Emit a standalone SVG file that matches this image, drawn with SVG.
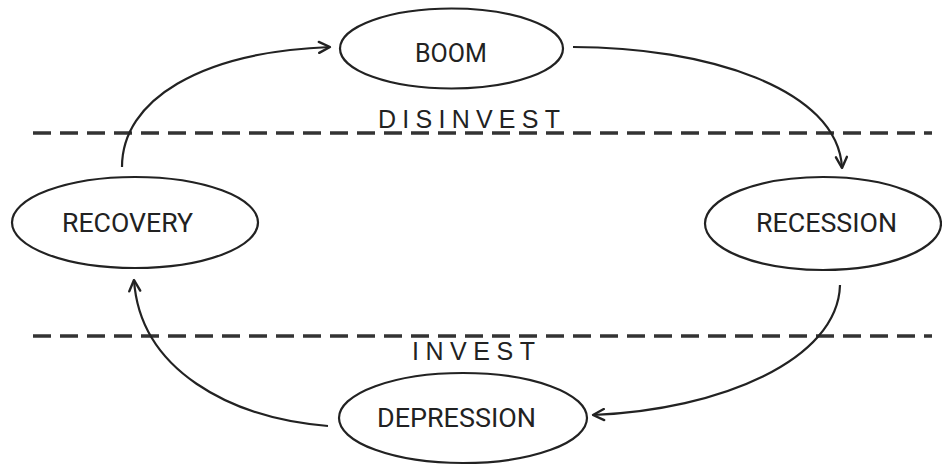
<svg xmlns="http://www.w3.org/2000/svg" width="942" height="467" viewBox="0 0 942 467">
  <defs>
    <marker id="arrow" viewBox="0 0 14 14" refX="12.5" refY="7" markerWidth="14" markerHeight="14" markerUnits="userSpaceOnUse" orient="auto">
      <path d="M1.5,1.5 L12.5,7 L1.5,12.5" fill="none" stroke="#222" stroke-width="2.4" stroke-linecap="round" stroke-linejoin="round"/>
    </marker>
  </defs>
  <style>
    .node ellipse { fill: #fff; stroke: #222; stroke-width: 2.2; }
    .label { font-family: Roboto, "Liberation Sans", sans-serif; font-size: 26px; fill: #222; }
    .zone { font-family: "Liberation Sans", Roboto, sans-serif; font-size: 25px; fill: #222; }
    .dash { stroke: #333; stroke-width: 3.5; stroke-dasharray: 18 9; fill: none; }
    .conn path { fill: none; stroke: #222; stroke-width: 2.2; marker-end: url(#arrow); }
  </style>
  <rect width="942" height="467" fill="#fff"/>

  <g id="zones">
    <line class="dash" x1="33" y1="133" x2="932" y2="133"/>
    <line class="dash" x1="33" y1="336" x2="932" y2="336"/>
    <text class="zone" x="378" y="128" textLength="182" lengthAdjust="spacing">DISINVEST</text>
    <text class="zone" x="412" y="360" textLength="123" lengthAdjust="spacing">INVEST</text>
  </g>

  <g id="connectors" class="conn">
    <path d="M122,167 C122,100 200,52 330,47"/>
    <path d="M573,47 C705,47 838,88 842,168"/>
    <path d="M840,285 C838,360 720,410 593,415"/>
    <path d="M328,426 C230,418 140,370 134,280"/>
  </g>

  <g id="boom" class="node">
    <ellipse cx="451.5" cy="48.5" rx="111.5" ry="40"/>
    <text class="label" x="451" y="62" text-anchor="middle" textLength="72" lengthAdjust="spacingAndGlyphs">BOOM</text>
  </g>
  <g id="recession" class="node">
    <ellipse cx="823" cy="223.5" rx="118" ry="46.5"/>
    <text class="label" x="826.5" y="232" text-anchor="middle" textLength="141" lengthAdjust="spacingAndGlyphs">RECESSION</text>
  </g>
  <g id="depression" class="node">
    <ellipse cx="463" cy="418" rx="124" ry="45"/>
    <text class="label" x="456.5" y="427" text-anchor="middle" textLength="159" lengthAdjust="spacingAndGlyphs">DEPRESSION</text>
  </g>
  <g id="recovery" class="node">
    <ellipse cx="135" cy="222.5" rx="123" ry="45.5"/>
    <text class="label" x="127.5" y="232" text-anchor="middle" textLength="131" lengthAdjust="spacingAndGlyphs">RECOVERY</text>
  </g>
</svg>
